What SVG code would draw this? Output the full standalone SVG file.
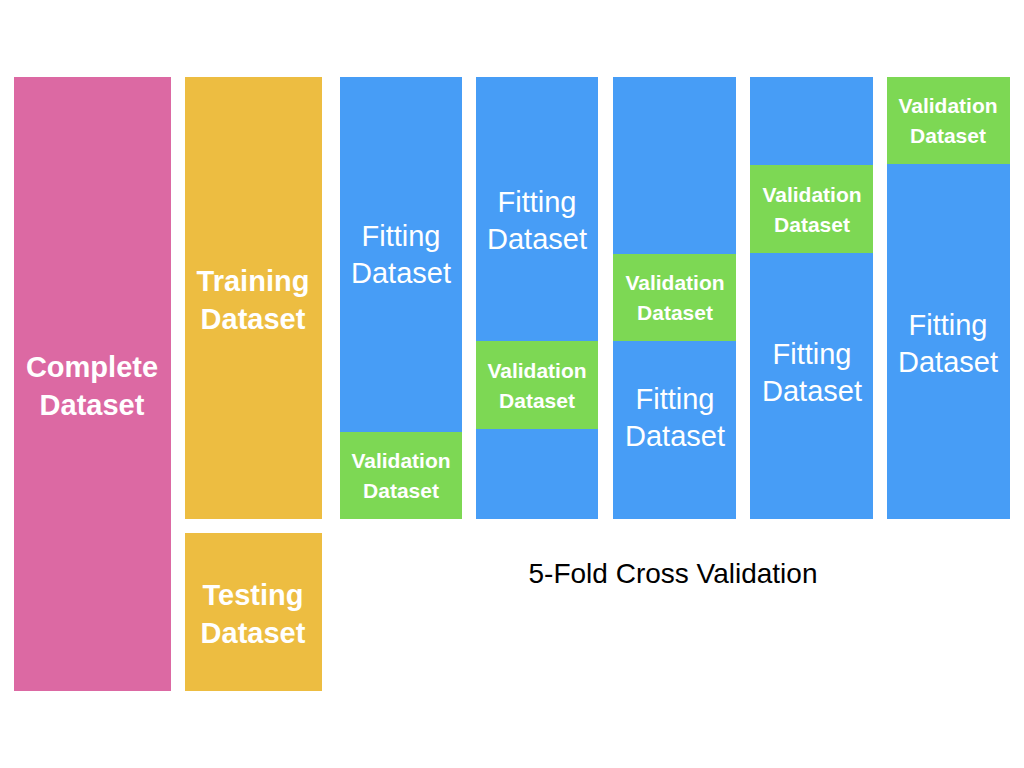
<svg xmlns="http://www.w3.org/2000/svg" width="1024" height="768" viewBox="0 0 1024 768">
<style>
.big{font-family:"Helvetica","Liberation Sans",Arial,sans-serif;font-weight:bold;font-size:29px;fill:#fff;text-anchor:middle}
.fit{font-family:"Helvetica","Liberation Sans",Arial,sans-serif;font-size:29px;fill:#fff;text-anchor:middle}
.val{font-family:"Helvetica","Liberation Sans",Arial,sans-serif;font-weight:bold;font-size:21px;fill:#fff;text-anchor:middle}
.blue{fill:#479DF6}.green{fill:#7DD854}
</style>
<rect width="1024" height="768" fill="#fff"/>
<g id="complete"><rect x="14" y="77" width="157" height="614" fill="#DC69A3"/><text class="big" x="92" y="377">Complete</text><text class="big" x="92" y="415">Dataset</text></g>
<g id="training"><rect x="185" y="77" width="137" height="442" fill="#EDBD41"/><text class="big" x="253" y="291">Training</text><text class="big" x="253" y="329">Dataset</text></g>
<g id="testing"><rect x="185" y="533" width="137" height="158" fill="#EDBD41"/><text class="big" x="253" y="605">Testing</text><text class="big" x="253" y="643">Dataset</text></g>
<g id="fold1"><rect class="blue" x="340" y="77" width="122" height="442"/><text class="fit" x="401" y="246">Fitting</text><text class="fit" x="401" y="283">Dataset</text>
<rect class="green" x="340" y="432" width="122" height="87"/><text class="val" x="401" y="468">Validation</text><text class="val" x="401" y="498">Dataset</text></g>
<g id="fold2"><rect class="blue" x="476" y="77" width="122" height="442"/><text class="fit" x="537" y="212">Fitting</text><text class="fit" x="537" y="249">Dataset</text>
<rect class="green" x="476" y="341" width="122" height="88"/><text class="val" x="537" y="378">Validation</text><text class="val" x="537" y="408">Dataset</text></g>
<g id="fold3"><rect class="blue" x="613" y="77" width="123" height="442"/><text class="fit" x="675" y="409">Fitting</text><text class="fit" x="675" y="446">Dataset</text>
<rect class="green" x="613" y="254" width="123" height="87"/><text class="val" x="675" y="290">Validation</text><text class="val" x="675" y="320">Dataset</text></g>
<g id="fold4"><rect class="blue" x="750" y="77" width="123" height="442"/><text class="fit" x="812" y="364">Fitting</text><text class="fit" x="812" y="401">Dataset</text>
<rect class="green" x="750" y="165" width="123" height="88"/><text class="val" x="812" y="202">Validation</text><text class="val" x="812" y="232">Dataset</text></g>
<g id="fold5"><rect class="blue" x="887" y="77" width="123" height="442"/><text class="fit" x="948" y="335">Fitting</text><text class="fit" x="948" y="372">Dataset</text>
<rect class="green" x="887" y="77" width="123" height="87"/><text class="val" x="948" y="113">Validation</text><text class="val" x="948" y="143">Dataset</text></g>
<g id="connectors"/>
<text x="673" y="583" font-family="Helvetica,'Liberation Sans',Arial,sans-serif" font-size="28" text-anchor="middle" fill="#000">5-Fold Cross Validation</text>
</svg>
